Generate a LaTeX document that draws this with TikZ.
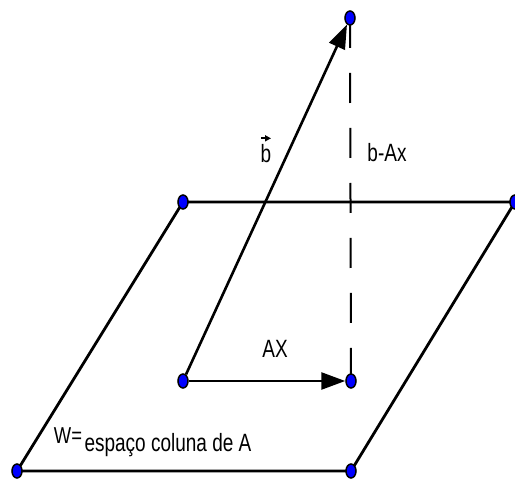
\documentclass[tikz,border=0pt]{standalone}
\usepackage{fontspec}
\usepackage{graphicx}
\setmainfont{Liberation Sans}
\usepackage{tikz}
\usetikzlibrary{shapes.geometric,arrows.meta,positioning}
\definecolor{ptblue}{RGB}{0,0,255}
\newcommand{\narrow}[1]{\scalebox{0.76}[1]{#1}}
\tikzset{
  ptdot/.style={ellipse,draw=black,line width=1.5pt,fill=ptblue,
    minimum width=10pt,minimum height=14pt,inner sep=0pt},
  planeline/.style={line width=2.8pt,line cap=round},
  vecarrow/.style={line width=2.6pt,-{Triangle[length=24pt,width=17pt]}},
  projline/.style={line width=2pt,dash pattern=on 30pt off 25pt},
  lbl/.style={font=\fontsize{25}{25}\selectfont,inner sep=0pt},
}

\begin{document}
\begin{tikzpicture}[x=1pt,y=1pt]
\useasboundingbox (0,0) rectangle (515,480);

% ── Points ───────────────────────────────────────────────────────────────
\coordinate (bl) at (17,9);
\coordinate (br) at (351,9);
\coordinate (tl) at (183,278);
\coordinate (tr) at (515,278);
\coordinate (o)  at (183,99);
\coordinate (p)  at (351,99);
\coordinate (b)  at (350,462);

% ── Plane W ──────────────────────────────────────────────────────────────
\draw[planeline] (bl) -- (br) -- (tr) -- (tl) -- cycle;

% ── Projection b - Ax ────────────────────────────────────────────────────
\draw[projline] (b) -- (p);

% ── Dots ─────────────────────────────────────────────────────────────────
\foreach \pt in {bl,br,tl,tr,o,p,b}
  \node[ptdot] (d\pt) at (\pt) {};

% ── Vectors ──────────────────────────────────────────────────────────────
\draw[vecarrow] (do) -- (db);
\draw[vecarrow] (do) -- (dp);

% ── Labels ───────────────────────────────────────────────────────────────
\node[lbl] (lax) at (275,131) {\narrow{AX}};
\node[lbl] (lbma) at (387,327) {\narrow{b-Ax}};
\node[lbl] (lvb) at (266,331)
  {\shortstack{\tikz\draw[line width=1.8pt,-{Triangle[length=6pt,width=6pt]}] (0,0) -- (10pt,0);\\[0pt]\narrow{b}}};
\node[lbl, font=\fontsize{23}{23}\selectfont] (lw) at (68,44) {\scalebox{0.8}[1]{W=}};
\node[lbl] (lesp) at (168,35) {\narrow{espaço coluna de A}};

\end{tikzpicture}
\end{document}
